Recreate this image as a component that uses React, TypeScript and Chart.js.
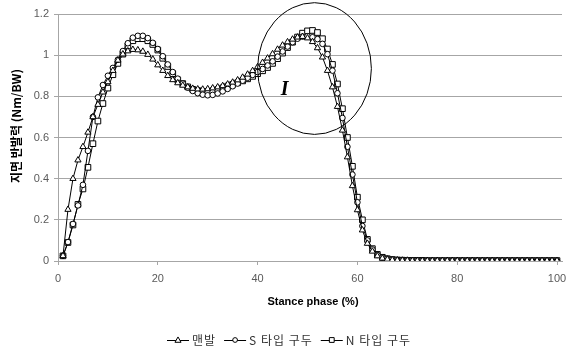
import React, { useEffect, useRef } from "react";
import { Chart, registerables } from "chart.js";

Chart.register(...registerables);

// ---- data ----
const stancePhase = [
  1, 2, 3, 4, 5, 6, 7, 8, 9, 10,
  11, 12, 13, 14, 15, 16, 17, 18, 19, 20,
  21, 22, 23, 24, 25, 26, 27, 28, 29, 30,
  31, 32, 33, 34, 35, 36, 37, 38, 39, 40,
  41, 42, 43, 44, 45, 46, 47, 48, 49, 50,
  51, 52, 53, 54, 55, 56, 57, 58, 59, 60,
  61, 62, 63, 64, 65, 66, 67, 68, 69, 70,
  71, 72, 73, 74, 75, 76, 77, 78, 79, 80,
  81, 82, 83, 84, 85, 86, 87, 88, 89, 90,
  91, 92, 93, 94, 95, 96, 97, 98, 99, 100,
];

const barefoot = [
  0.025, 0.25, 0.4, 0.49, 0.555, 0.625, 0.7, 0.76, 0.82, 0.87,
  0.925, 0.975, 1.005, 1.02, 1.027, 1.025, 1.018, 1.003, 0.98, 0.952,
  0.925, 0.9, 0.88, 0.865, 0.853, 0.845, 0.838, 0.835, 0.834, 0.836,
  0.84, 0.845, 0.851, 0.859, 0.868, 0.879, 0.892, 0.907, 0.924, 0.943,
  0.964, 0.985, 1.006, 1.028, 1.048, 1.064, 1.077, 1.087, 1.09, 1.083,
  1.065, 1.035, 0.99, 0.925, 0.845, 0.75, 0.635, 0.505, 0.365, 0.248,
  0.15, 0.085, 0.047, 0.024, 0.013, 0.008, 0.005, 0.004, 0.003, 0.003,
  0.002, 0.002, 0.002, 0.002, 0.002, 0.002, 0.002, 0.002, 0.002, 0.002,
  0.002, 0.002, 0.002, 0.002, 0.002, 0.002, 0.002, 0.002, 0.002, 0.002,
  0.002, 0.002, 0.002, 0.002, 0.002, 0.002, 0.002, 0.002, 0.002, 0.002,
];

const sTypeShoe = [
  0.025, 0.092, 0.18, 0.27, 0.37, 0.535, 0.7, 0.795, 0.855, 0.9,
  0.938, 0.978, 1.02, 1.058, 1.085, 1.094, 1.094, 1.083, 1.06, 1.03,
  0.995, 0.955, 0.918, 0.886, 0.862, 0.842, 0.826, 0.815, 0.808, 0.805,
  0.807, 0.814, 0.824, 0.836, 0.849, 0.862, 0.876, 0.89, 0.904, 0.918,
  0.933, 0.95, 0.97, 0.993, 1.018, 1.042, 1.063, 1.08, 1.09, 1.092,
  1.087, 1.078, 1.055, 1.005, 0.925, 0.815, 0.695, 0.555, 0.42, 0.285,
  0.17, 0.1, 0.056, 0.03, 0.017, 0.011, 0.007, 0.005, 0.004, 0.003,
  0.003, 0.003, 0.002, 0.002, 0.002, 0.002, 0.002, 0.002, 0.002, 0.002,
  0.002, 0.002, 0.002, 0.002, 0.002, 0.002, 0.002, 0.002, 0.002, 0.002,
  0.002, 0.002, 0.002, 0.002, 0.002, 0.002, 0.002, 0.002, 0.002, 0.002,
];

const nTypeShoe = [
  0.025, 0.09, 0.175, 0.275, 0.35, 0.455, 0.57, 0.68, 0.765, 0.84,
  0.905, 0.96, 1.005, 1.045, 1.07, 1.08, 1.08, 1.07, 1.052, 1.025,
  0.985, 0.945, 0.91, 0.88, 0.862, 0.846, 0.834, 0.828, 0.824, 0.824,
  0.827, 0.833, 0.841, 0.85, 0.858, 0.866, 0.875, 0.885, 0.897, 0.91,
  0.924, 0.94, 0.96, 0.983, 1.01, 1.037, 1.063, 1.088, 1.107, 1.118,
  1.12, 1.11, 1.08, 1.03, 0.955, 0.86, 0.74, 0.6, 0.46, 0.31,
  0.2, 0.105, 0.06, 0.032, 0.018, 0.011, 0.007, 0.005, 0.004, 0.003,
  0.003, 0.003, 0.003, 0.002, 0.002, 0.002, 0.002, 0.002, 0.002, 0.002,
  0.002, 0.002, 0.002, 0.002, 0.002, 0.002, 0.002, 0.002, 0.002, 0.002,
  0.002, 0.002, 0.002, 0.002, 0.002, 0.002, 0.002, 0.002, 0.002, 0.002,
];

const seriesLabels = ["맨발", "S 타입 구두", "N 타입 구두"];
const seriesMarkers = ["triangle", "circle", "rect"];
const xTickValues = [0, 20, 40, 60, 80, 100];
const yTickValues = [0, 0.2, 0.4, 0.6, 0.8, 1, 1.2];
const xAxisTitle = "Stance phase (%)";
const yAxisTitle = "지면 반발력 (Nm/BW)";
const regionLabel = "I";
// highlighted region (data units): centre x, centre y, radius x, radius y
const regionEllipse = [51.4, 0.935, 11.4, 0.32];
const regionLabelPos = [45.4, 0.83];

const TICK_FONT = { family: "'Liberation Sans', Arial, sans-serif", size: 11 };
const TICK_COLOR = "#5a5a5a";
const GRID_COLOR = "#a6a6a6";

function markerRadius(style: string) {
  if (style === "triangle") return 3.6;
  if (style === "rect") return 4;
  return 2.8;
}

const overlayPlugin = {
  id: "overlay",
  afterDatasetsDraw(chart: any) {
    const { ctx, scales } = chart;
    const x = scales.x;
    const y = scales.y;
    const [ecx, ecy, erx, ery] = regionEllipse;
    const cx = x.getPixelForValue(ecx);
    const cy = y.getPixelForValue(ecy);
    const rx = Math.abs(x.getPixelForValue(ecx + erx) - cx);
    const ry = Math.abs(y.getPixelForValue(ecy + ery) - cy);
    ctx.save();
    ctx.beginPath();
    ctx.ellipse(cx, cy, rx, ry, 0, 0, Math.PI * 2);
    ctx.strokeStyle = "#000";
    ctx.lineWidth = 1;
    ctx.stroke();
    ctx.font = "italic bold 20px 'Liberation Serif', serif";
    ctx.fillStyle = "#000";
    ctx.textAlign = "center";
    ctx.textBaseline = "middle";
    ctx.fillText(
      regionLabel,
      x.getPixelForValue(regionLabelPos[0]),
      y.getPixelForValue(regionLabelPos[1])
    );
    ctx.restore();
  },
  afterDraw(chart: any) {
    const { ctx } = chart;
    ctx.save();
    // y axis title
    ctx.fillStyle = "#000";
    ctx.font = "bold 12px 'Noto Sans CJK KR', sans-serif";
    ctx.textAlign = "center";
    ctx.textBaseline = "middle";
    ctx.translate(16, 126);
    ctx.rotate(-Math.PI / 2);
    ctx.fillText(yAxisTitle, 0, 0);
    ctx.restore();

    ctx.save();
    // x axis title
    ctx.fillStyle = "#000";
    ctx.font = "bold 11px 'Liberation Sans', Arial, sans-serif";
    ctx.textAlign = "center";
    ctx.textBaseline = "middle";
    ctx.fillText(xAxisTitle, 313, 302);

    // legend
    ctx.font = "12px 'Noto Sans CJK KR', sans-serif";
    try {
      (ctx as any).letterSpacing = "1px";
    } catch (e) {}
    ctx.textBaseline = "middle";
    ctx.textAlign = "left";
    const symW = 22;
    const gapText = 3;
    const gapItem = 8;
    const ds = chart.data.datasets;
    const widths = ds.map((d: any) => symW + gapText + ctx.measureText(d.label).width);
    const total = widths.reduce((a: number, b: number) => a + b, 0) + gapItem * (ds.length - 1);
    let lx = 289 - total / 2;
    const ly = 340;
    ds.forEach((d: any, i: number) => {
      ctx.strokeStyle = "#000";
      ctx.lineWidth = 1;
      ctx.beginPath();
      ctx.moveTo(lx, ly + 0.5);
      ctx.lineTo(lx + symW, ly + 0.5);
      ctx.stroke();
      ctx.fillStyle = "#fff";
      const mx = lx + symW / 2;
      const r = markerRadius(d.pointStyle) * 0.85;
      ctx.beginPath();
      if (d.pointStyle === "triangle") {
        ctx.moveTo(mx, ly - r);
        ctx.lineTo(mx + r, ly + r * 0.75);
        ctx.lineTo(mx - r, ly + r * 0.75);
        ctx.closePath();
      } else if (d.pointStyle === "rect") {
        const s = r * Math.SQRT1_2;
        ctx.rect(mx - s, ly - s, 2 * s, 2 * s);
      } else {
        ctx.arc(mx, ly, r, 0, Math.PI * 2);
      }
      ctx.fill();
      ctx.stroke();
      ctx.fillStyle = "#333";
      ctx.fillText(d.label, lx + symW + gapText, ly);
      lx += widths[i] + gapItem;
    });
    ctx.restore();
  },
};

export default function App() {
  const canvasRef = useRef<HTMLCanvasElement | null>(null);

  useEffect(() => {
    const canvas = canvasRef.current;
    if (!canvas) return;
    const seriesValues = [barefoot, sTypeShoe, nTypeShoe];
    const datasets = seriesValues.map((vals, i) => ({
      label: seriesLabels[i],
      data: vals.map((v, k) => ({ x: stancePhase[k], y: v })),
      borderColor: "#000",
      borderWidth: 1,
      pointStyle: seriesMarkers[i],
      pointRadius: markerRadius(seriesMarkers[i]),
      pointBackgroundColor: "#fff",
      pointBorderColor: "#000",
      pointBorderWidth: 1,
      tension: 0,
      fill: false,
    }));

    const chart = new Chart(canvas, {
      type: "line",
      data: { datasets },
      options: {
        responsive: false,
        animation: false,
        devicePixelRatio: 1,
        layout: { padding: { top: 14, right: 6, left: 0, bottom: 0 } },
        plugins: {
          legend: { display: false },
          tooltip: { enabled: false },
        },
        scales: {
          x: {
            type: "linear",
            min: 0,
            max: 101,
            afterBuildTicks: (scale: any) => {
              scale.ticks = xTickValues.map((v) => ({ value: v }));
            },
            afterFit: (scale: any) => {
              scale.height = 94;
              scale.paddingLeft = 0;
              scale.paddingRight = 0;
            },
            ticks: {
              font: TICK_FONT,
              color: TICK_COLOR,
              padding: 7,
              maxRotation: 0,
              autoSkip: false,
            },
            grid: {
              drawOnChartArea: false,
              drawTicks: true,
              tickLength: 4,
              color: GRID_COLOR,
            },
            border: { display: true, color: GRID_COLOR, width: 1 },
          },
          y: {
            type: "linear",
            min: 0,
            max: 1.2,
            afterBuildTicks: (scale: any) => {
              scale.ticks = yTickValues.map((v) => ({ value: v }));
            },
            afterFit: (scale: any) => {
              scale.width = 58;
              scale.paddingTop = 0;
              scale.paddingBottom = 0;
            },
            ticks: {
              font: TICK_FONT,
              color: TICK_COLOR,
              padding: 5,
              callback: (v: any) => {
                const n = Number(v);
                return Number.isInteger(n) ? String(n) : n.toFixed(1);
              },
            },
            grid: {
              color: GRID_COLOR,
              lineWidth: 1,
              drawTicks: true,
              tickLength: 4,
            },
            border: { display: true, color: GRID_COLOR, width: 1 },
          },
        },
      },
      plugins: [overlayPlugin],
    } as any);

    return () => chart.destroy();
  }, []);

  return (
    <canvas
      ref={canvasRef}
      width={568}
      height={355}
      style={{ position: "absolute", left: 0, top: 0, width: 568, height: 355 }}
    />
  );
}
